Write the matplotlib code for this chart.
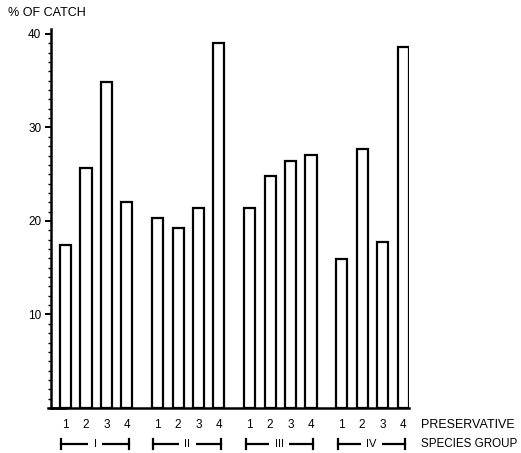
import matplotlib.pyplot as plt
from matplotlib.ticker import MultipleLocator
import matplotlib.transforms as mtransforms

plt.rcParams['font.family'] = ['Liberation Sans', 'DejaVu Sans']

# data
groups = ['I', 'II', 'III', 'IV']
preservatives = ['1', '2', '3', '4']
values = {
    'I':   [17.4, 25.7, 34.9, 22.0],
    'II':  [20.3, 19.2, 21.4, 39.0],
    'III': [21.4, 24.8, 26.4, 27.1],
    'IV':  [15.9, 27.7, 17.7, 38.6],
}

fig = plt.figure(figsize=(5.21, 4.53), dpi=100)
ax = fig.add_axes([51 / 521, 45 / 453, 358 / 521, 378.7 / 453])

step = 4.5
width = 0.54
trans = mtransforms.blended_transform_factory(ax.transData, ax.transAxes)

for g, grp in enumerate(groups):
    xs = [g * step + b for b in range(len(preservatives))]
    ax.bar(xs, values[grp], width=width, facecolor='white',
           edgecolor='black', linewidth=1.6)
    for x, lab in zip(xs, preservatives):
        ax.text(x, -0.045, lab, transform=trans, ha='center', va='center',
                fontsize=8.5)
    # species group bracket
    x0, x1 = g * step - 0.2, g * step + 3.1
    ax.plot([x0, x1], [-0.094, -0.094], color='black', lw=1.6,
            transform=trans, clip_on=False)
    for xe in (x0, x1):
        ax.plot([xe, xe], [-0.081, -0.107], color='black', lw=1.6,
                transform=trans, clip_on=False)
    ax.text((x0 + x1) / 2, -0.094, grp, transform=trans, ha='center',
            va='center', fontsize=8, zorder=5,
            bbox=dict(facecolor='white', edgecolor='none', pad=4))

ax.text(1.034, -0.045, 'PRESERVATIVE', transform=ax.transAxes,
        ha='left', va='center', fontsize=9)
ax.text(1.034, -0.094, 'SPECIES GROUP', transform=ax.transAxes,
        ha='left', va='center', fontsize=8.4)
fig.text(8 / 521, 1 - 13 / 453, '% OF CATCH', ha='left', va='center',
         fontsize=9)

# x axis line pokes slightly past the y axis
ax.plot([-0.85, 0], [0, 0], color='black', lw=1.8, clip_on=False)

ax.set_xlim(-0.71, 16.79)
ax.set_ylim(0, 40.5)
ax.yaxis.set_major_locator(MultipleLocator(10))
ax.yaxis.set_minor_locator(MultipleLocator(1))
ax.set_yticks([10, 20, 30, 40])
ax.tick_params(axis='y', which='major', direction='out', length=4,
               width=1.4, labelsize=8.5, pad=3)
ax.tick_params(axis='y', which='minor', direction='out', length=2, width=1)
ax.set_xticks([])
for s in ('top', 'right'):
    ax.spines[s].set_visible(False)
for s in ('left', 'bottom'):
    ax.spines[s].set_linewidth(1.8)

plt.savefig('out.png', dpi=100)
